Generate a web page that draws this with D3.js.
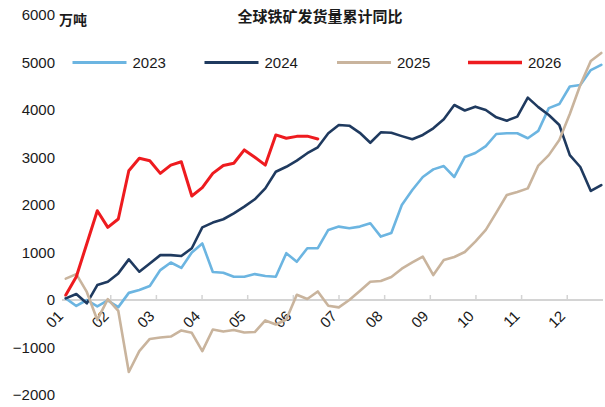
<!DOCTYPE html>
<html>
<head>
<meta charset="utf-8">
<script src="https://cdn.jsdelivr.net/npm/d3@7"></script>
<style>
  body { margin: 0; background: #ffffff; }
  svg { display: block; }
  text { font-family: "Liberation Sans", Arial, sans-serif; fill: #1a1a1a; }
  .cjk { font-family: "Noto Sans CJK SC", sans-serif; font-weight: 700; }
</style>
</head>
<body>
<svg id="chart" width="605" height="407"></svg>
<script>
// Cumulative year-on-year change in global iron ore shipments, weekly (10k tonnes)
const title = "全球铁矿发货量累计同比";
const unit = "万吨";
const seriesNames = ["2023", "2024", "2025", "2026"];
const seriesColors = ["#6cb5e1", "#1f3a5f", "#c9b49d", "#ee1b1f"];
const monthLabels = ["01","02","03","04","05","06","07","08","09","10","11","12"];
const yTicks = [-2000, -1000, 0, 1000, 2000, 3000, 4000, 5000, 6000];

const s2023 = [35,-125,0,-135,-10,-150,150,210,295,630,790,675,1000,1190,590,575,490,490,545,505,490,985,805,1090,1090,1475,1545,1510,1545,1615,1335,1410,2000,2315,2590,2750,2820,2590,3010,3095,3240,3495,3510,3510,3405,3560,4040,4125,4495,4525,4840,4950];
const s2024 = [35,125,-70,315,385,560,855,595,770,945,945,925,1090,1530,1630,1700,1825,1965,2120,2350,2700,2805,2935,3090,3215,3510,3685,3670,3520,3310,3530,3520,3450,3385,3475,3615,3805,4105,3990,4070,4000,3845,3775,3860,4260,4060,3895,3685,3050,2800,2295,2420];
const s2025 = [450,545,170,-420,20,-230,-1515,-1075,-820,-790,-770,-640,-690,-1075,-620,-665,-630,-685,-675,-430,-515,-410,110,20,180,-120,-155,0,190,385,400,485,660,790,915,525,840,905,1010,1230,1475,1840,2210,2275,2350,2830,3050,3370,3915,4525,5030,5200];
const s2026 = [105,490,1185,1880,1530,1705,2720,2985,2930,2665,2840,2910,2190,2365,2665,2830,2880,3160,3005,2840,3475,3405,3445,3450,3390];

const allSeries = [s2023, s2024, s2025, s2026];

const svg = d3.select("#chart");

// weekly position scale and month tick scale
const x = d3.scaleLinear().domain([0, 51]).range([65.8, 601.3]);
const xMonth = d3.scaleLinear().domain([0, 12]).range([64.6, 612.4]);
const y = d3.scaleLinear().domain([-2000, 6000]).range([395, 15]);

// zero baseline
svg.append("line")
  .attr("x1", 62).attr("x2", 603)
  .attr("y1", y(0)).attr("y2", y(0))
  .attr("stroke", "#d4d4d4").attr("stroke-width", 2);

// month axis: short upward ticks, slanted labels
const xAxis = d3.axisBottom(xMonth)
  .tickValues(d3.range(12))
  .tickSizeInner(-5).tickSizeOuter(0)
  .tickFormat(i => monthLabels[i]);
const gx = svg.append("g").attr("transform", `translate(0,${y(0)})`).call(xAxis);
gx.select(".domain").remove();
gx.selectAll(".tick line").attr("stroke", "#d4d4d4").attr("stroke-width", 1.5);
gx.selectAll(".tick text")
  .attr("font-size", 15)
  .attr("font-family", "Liberation Sans, Arial, sans-serif")
  .attr("fill", "#1a1a1a")
  .attr("text-anchor", "end")
  .attr("dy", null)
  .attr("y", 0)
  .attr("transform", "translate(-1,17) rotate(-45)");

// value labels on the left
const yAxis = d3.axisLeft(y).tickValues(yTicks).tickSize(0).tickFormat(d3.format("d"));
const gy = svg.append("g").attr("transform", "translate(55,0)").call(yAxis);
gy.select(".domain").remove();
gy.selectAll(".tick text")
  .attr("font-size", 15)
  .attr("font-family", "Liberation Sans, Arial, sans-serif")
  .attr("fill", "#1a1a1a")
  .attr("x", 0);

// unit and title
svg.append("text").attr("class", "cjk")
  .attr("x", 59).attr("y", 25).attr("font-size", 14).text(unit);
svg.append("text").attr("class", "cjk")
  .attr("x", 320).attr("y", 22).attr("text-anchor", "middle")
  .attr("font-size", 15).text(title);

// series lines
const line = d3.line().x((d, i) => x(i)).y(d => y(d));
allSeries.forEach((s, k) => {
  svg.append("path")
    .datum(s)
    .attr("d", line)
    .attr("fill", "none")
    .attr("stroke", seriesColors[k])
    .attr("stroke-width", k === 3 ? 3 : 2.6)
    .attr("stroke-linejoin", "round")
    .attr("stroke-linecap", "round");
});

// legend
const legendX = [72.5, 204.5, 337, 468];
const legendY = y(5000);
seriesNames.forEach((name, k) => {
  svg.append("line")
    .attr("x1", legendX[k]).attr("x2", legendX[k] + 54)
    .attr("y1", legendY).attr("y2", legendY)
    .attr("stroke", seriesColors[k]).attr("stroke-width", k === 3 ? 3.5 : 3);
  svg.append("text")
    .attr("x", legendX[k] + 60).attr("y", legendY)
    .attr("dy", "0.36em")
    .attr("font-size", 15)
    .text(name);
});
</script>
</body>
</html>
